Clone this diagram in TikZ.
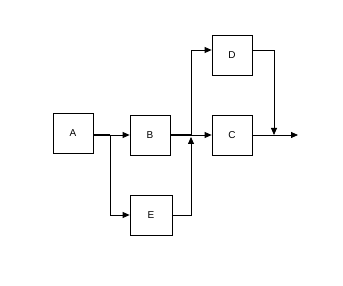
\documentclass[tikz,border=0pt]{standalone}
\usepackage{fontspec}
\setmainfont{Liberation Sans}
\usetikzlibrary{arrows.meta}

\begin{document}
\begin{tikzpicture}[x=1pt,y=-1pt]
  \tikzstyle{block}=[draw,minimum width=40pt,minimum height=40pt,inner sep=0pt,line width=0.8pt,font=\fontsize{10}{12}\selectfont]
  \tikzstyle{link}=[-{Triangle[length=7pt,width=6pt]},line width=0.8pt]
  \tikzstyle{bus}=[line width=2pt]
  \useasboundingbox (0,0) rectangle (343,286);
  \node [block] (a) at (73,133) {A} ;
  \node [block] (b) at (150,135) {B} ;
  \node [block] (c) at (232,135) {C} ;
  \node [block] (d) at (232,55) {D} ;
  \node [block,minimum width=42pt] (e) at (151,215) {E} ;
  \coordinate (split) at (110,135) ;
  \coordinate (merge) at (191,135) ;
  \coordinate (join) at (274,135) ;
  \coordinate (out) at (298,135) ;
  \draw [bus] (a.east |- split) -- (split) ;
  \draw [link] (split) -- (b) ;
  \draw [link] (split) |- (e) ;
  \draw [bus] (b) -- (merge) ;
  \draw [link] (merge) -- (c) ;
  \draw [link] (merge) |- ([yshift=5pt]d.west) ;
  \draw [link] ([yshift=5pt]d.east) -| (join) ;
  \draw [link] (c) -- (out) ;
  \draw [link] (e) -| ([yshift=-2pt]merge) ;
\end{tikzpicture}
\end{document}
